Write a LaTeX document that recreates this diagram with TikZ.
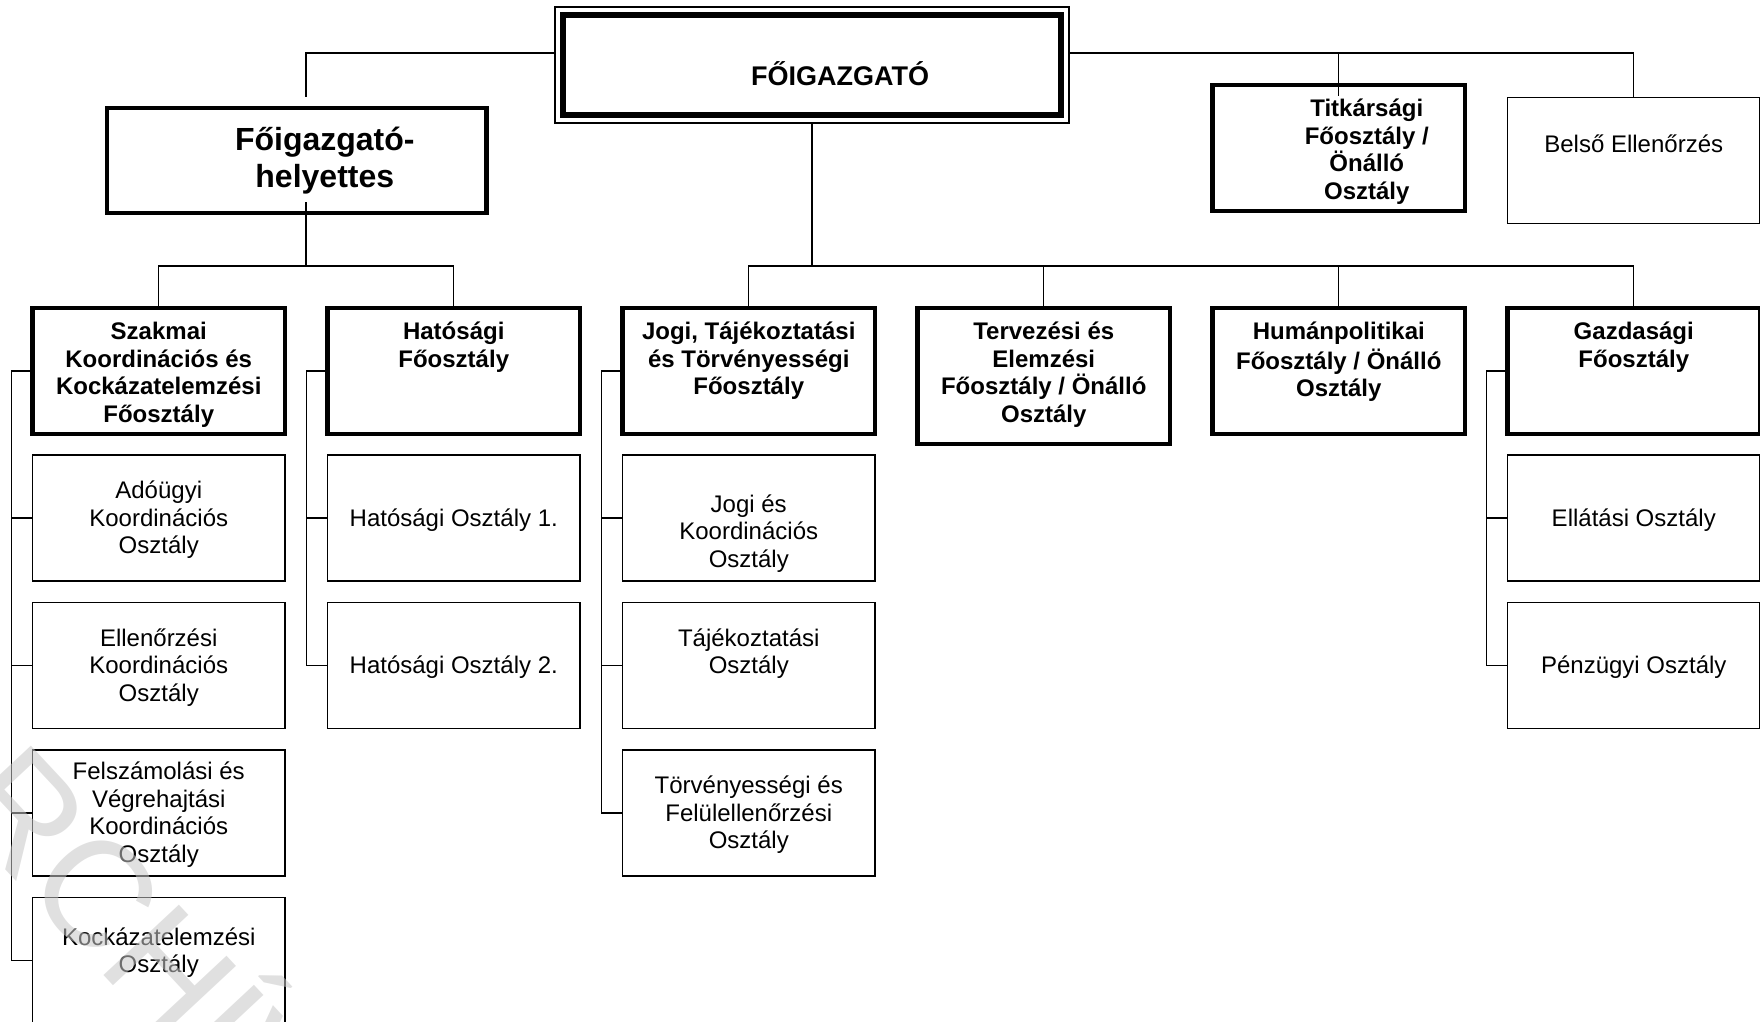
\documentclass[tikz,border=0pt]{standalone}
\usepackage{fontspec}
\setmainfont{Liberation Sans}
\usetikzlibrary{calc}

\tikzset{
  conn/.style={line width=1.4pt},
  topbox/.style n args={3}{draw, inner sep=0pt, outer sep=0pt,
    execute at begin node={\begin{minipage}[c][#1][t]{#2}\vspace*{#3}\centering\strut},
    execute at end node={\end{minipage}}},
  headbox/.style={topbox={#1}{252.5pt}{12.25pt}, line width=4.3pt,
    font=\bfseries\fontsize{24}{27.5}\selectfont},
  headbox/.default=125.7pt,
  unitbox/.style={draw, line width=1.6pt, inner sep=0pt, outer sep=0pt,
    font=\fontsize{24}{27.5}\selectfont,
    execute at begin node={\begin{minipage}[c][126pt][c]{252.5pt}\vspace*{5pt}\centering\strut},
    execute at end node={\strut\end{minipage}}}
}
\newcommand{\shiftr}{\leftskip=56pt plus 1fil\relax}

\begin{document}
\begin{tikzpicture}[x=1pt,y=-1pt]
\useasboundingbox (0,0) rectangle (1760,1021);
\coordinate (topbus) at (0,53);
\coordinate (midbus) at (0,266);
\coordinate (leftbus) at (306,266);

\node[topbox={116pt}{514pt}{56.3pt}, line width=1.3pt, font=\bfseries\fontsize{27}{31}\selectfont] (fo) at (812,65) {\shiftr\smash{FŐIGAZGATÓ}\par};
\draw[line width=6.6pt] ($(fo.north west)+(8,8)$) rectangle ($(fo.south east)+(-8,-8)$);
\node[topbox={105pt}{379.6pt}{16.1pt}, line width=4.4pt, font=\bfseries\fontsize{32}{37}\selectfont] (hely) at (296.8,160.5) {\shiftr Főigazgató-\\helyettes\par};
\node[topbox={126pt}{252.5pt}{12.25pt}, line width=4.3pt, font=\bfseries\fontsize{24}{27.5}\selectfont] (tit) at (1338.75,148) {\shiftr Titkársági\\Főosztály /\\Önálló\\Osztály\par};
\node[topbox={126pt}{252.5pt}{35.5pt}, line width=1.6pt, font=\fontsize{24}{27.5}\selectfont] (belso) at (1633.75,160.3) {Belső Ellenőrzés};

\node[headbox] (szak) at (158.75,370.85) {Szakmai\\Koordinációs és\\Kockázatelemzési\\Főosztály};
\node[headbox] (hatos) at (453.75,370.85) {Hatósági\\Főosztály};
\node[headbox] (jogi) at (748.75,370.85) {Jogi, Tájékoztatási\\és Törvényességi\\Főosztály};
\node[headbox=136pt] (terv) at (1043.75,376) {Tervezési és\\Elemzési\\Főosztály / Önálló\\Osztály};
\node[headbox] (human) at (1338.75,370.85) {Humánpolitikai\\Főosztály / Önálló\\Osztály};
\node[headbox] (gazd) at (1633.75,370.85) {Gazdasági\\Főosztály};

\node[unitbox] (adougy) at (158.75,518) {Adóügyi\\Koordinációs\\Osztály};
\node[unitbox] (ellen) at (158.75,665.5) {Ellenőrzési\\Koordinációs\\Osztály};
\node[unitbox] (felsz) at (158.75,813) {Felszámolási és\\Végrehajtási\\Koordinációs\\Osztály};
\node[unitbox] (kock) at (158.75,960.5) {Kockázatelemzési\\Osztály\vspace{19pt}};
\node[unitbox] (hat1) at (453.75,518) {Hatósági Osztály 1.};
\node[unitbox] (hat2) at (453.75,665.5) {Hatósági Osztály 2.};
\node[unitbox] (jogko) at (748.75,518) {\\Jogi és\\Koordinációs\\Osztály};
\node[unitbox] (tajek) at (748.75,665.5) {Tájékoztatási\\Osztály\\};
\node[unitbox] (torv) at (748.75,813) {Törvényességi és\\Felülellenőrzési\\Osztály};
\node[unitbox] (ellat) at (1633.75,518) {Ellátási Osztály};
\node[unitbox] (penz) at (1633.75,665.5) {Pénzügyi Osztály};

\draw[conn] (fo.west |- topbus) -| ($(hely.north)+(9.2,-11)$);
\draw[conn] (fo.east |- topbus) -| (belso.north);
\draw[conn] (tit.north |- topbus) -- ($(tit.north)+(0,11)$);
\draw[conn] ($(hely.south)+(9.2,-11)$) -- (leftbus);
\draw[conn] (szak.north) -- (szak.north |- midbus) -- (hatos.north |- midbus) -- (hatos.north);
\draw[conn] (fo.south) -- (fo.south |- midbus);
\draw[conn] (jogi.north) -- (jogi.north |- midbus) -- (gazd.north |- midbus) -- (gazd.north);
\foreach \n in {terv,human} \draw[conn] (\n.north) -- (\n.north |- midbus);

\draw[conn] (szak.west) -- ++(-21,0) |- (kock.west);
\foreach \n in {adougy,ellen,felsz} \draw[conn] (\n.west) -- ++(-21,0);
\draw[conn] (hatos.west) -- ++(-21,0) |- (hat2.west);
\draw[conn] (hat1.west) -- ++(-21,0);
\draw[conn] (jogi.west) -- ++(-21,0) |- (torv.west);
\foreach \n in {jogko,tajek} \draw[conn] (\n.west) -- ++(-21,0);
\draw[conn] (gazd.west) -- ++(-21,0) |- (penz.west);
\draw[conn] (ellat.west) -- ++(-21,0);

\node[rotate=-47, text=black!22, text opacity=0.55, font=\fontsize{150}{150}\selectfont] (archiv) at (120,898) {ARCHÍV};
\end{tikzpicture}
\end{document}
